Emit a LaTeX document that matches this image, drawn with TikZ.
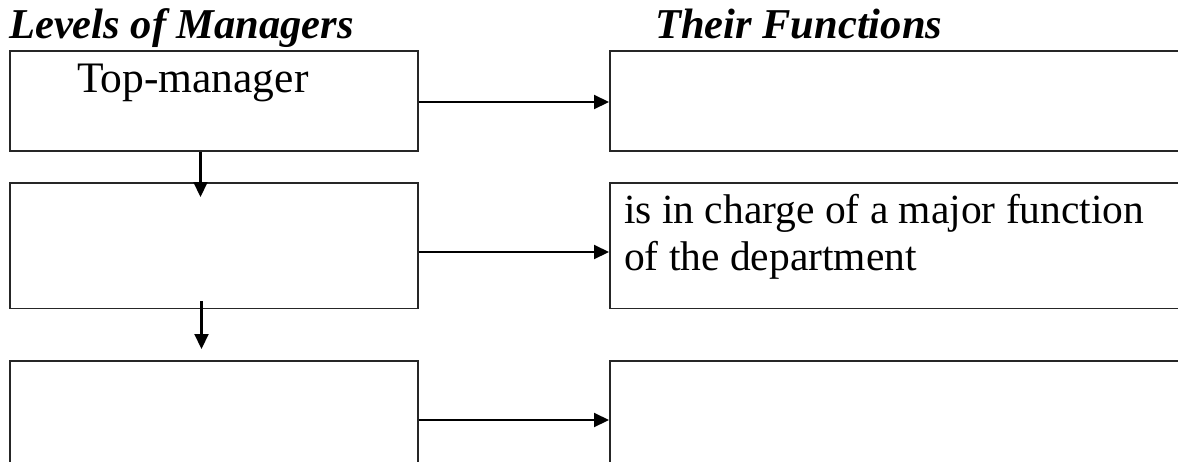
\documentclass[tikz,border=0pt]{standalone}
\usepackage{fontspec}
\setmainfont{Liberation Serif}
\usetikzlibrary{arrows.meta,positioning}

\tikzset{
  box/.style={draw=black!85, line width=1.6pt, rectangle, inner sep=0pt, anchor=north west},
  conn/.style={draw=black, line width=2.1pt, -{Triangle[length=15pt,width=14pt]}},
  head/.style={font=\fontsize{42.5}{48}\selectfont\bfseries\itshape, inner sep=0pt, anchor=base west},
  body/.style={font=\fontsize{41.5}{46.5}\selectfont, inner sep=0pt},
}

\begin{document}
\begin{tikzpicture}[x=1pt,y=-1pt]
  \useasboundingbox (0,0) rectangle (1178,461);
  \clip (0,0) rectangle (1178,461);

  % column headings
  \node[head] (h1) at (9,38) {Levels of Managers};
  \node[head] (h2) at (655,38) {Their Functions};

  % levels (left column)
  \node[box, minimum width=408pt, minimum height=100pt] (L1) at (9,50) {};
  \node[box, minimum width=408pt, minimum height=125.5pt] (L2) at (9,182) {};
  \node[box, minimum width=408pt, minimum height=130pt] (L3) at (9,360) {};

  % functions (right column)
  \node[box, minimum width=600pt, minimum height=100pt] (R1) at (609,50) {};
  \node[box, minimum width=600pt, minimum height=125.5pt] (R2) at (609,182) {};
  \node[box, minimum width=600pt, minimum height=130pt] (R3) at (609,360) {};

  % box texts
  \node[body, font=\fontsize{43.5}{48}\selectfont, anchor=base west] (t1) at (77,92) {Top-manager};
  \node[body, anchor=base west, align=left] (t2) at (624,270)
    {is in charge of a major function\\of the department};

  % level -> function connectors
  \coordinate (a1) at (0,102);
  \coordinate (a2) at (0,252);
  \coordinate (a3) at (0,420);
  \draw[conn] (L1.east |- a1) -- (R1.west |- a1);
  \draw[conn] (L2.east |- a2) -- (R2.west |- a2);
  \draw[conn] (L3.east |- a3) -- (R3.west |- a3);

  % level -> level connectors
  \coordinate (d1) at (200.5,197);
  \coordinate (d2s) at (201.5,301);
  \coordinate (d2) at (201.5,349);
  \draw[conn] (L1.south -| d1) -- (d1);
  \draw[conn] (d2s) -- (d2);
\end{tikzpicture}
\end{document}
